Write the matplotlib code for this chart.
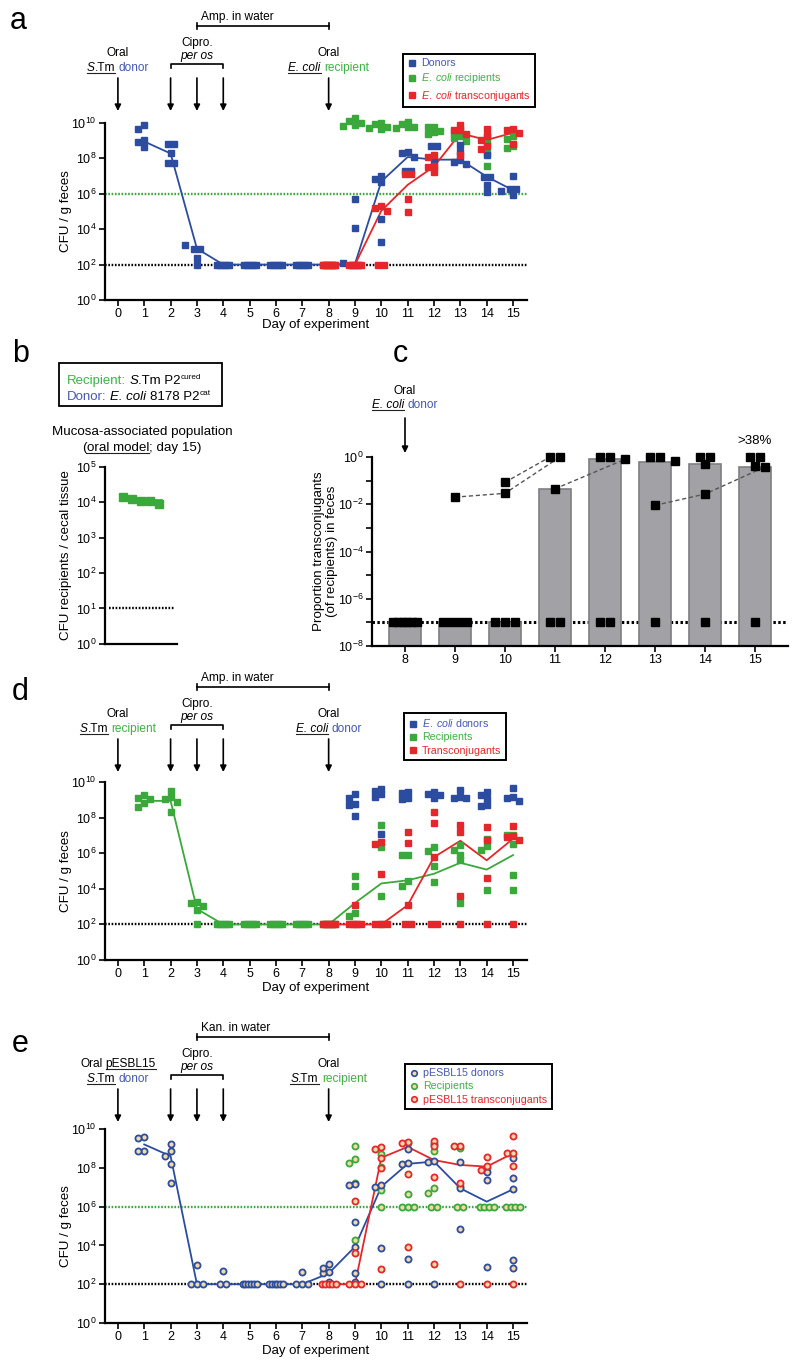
import numpy as np
import matplotlib
matplotlib.use('Agg')
import matplotlib.pyplot as plt
from matplotlib.lines import Line2D
from matplotlib.patches import Rectangle, FancyArrowPatch
from matplotlib.ticker import FixedLocator, FuncFormatter, NullLocator, NullFormatter

plt.rcParams['font.family'] = ['Liberation Sans', 'DejaVu Sans']
plt.rcParams['mathtext.fontset'] = 'custom'
plt.rcParams['mathtext.rm'] = 'Liberation Sans'
plt.rcParams['mathtext.it'] = 'Liberation Sans:italic'
plt.rcParams['mathtext.bf'] = 'Liberation Sans:bold'

# ---------------------------------------------------------------- data
# Panel a (S.Tm donor -> E. coli recipient)
a_donor_days = [1, 2, 3, 4, 5, 6, 7, 8, 9, 10, 11, 12, 13, 14, 15]
a_donor = [
    [4.8e9, 8e9, 1.15e9, 9e8, 4.7e8],
    [6.8e8, 6.8e8, 1.9e8, 5.8e7, 5.8e7],
    [800, 800, 1350, 250, 100],
    [1e2, 1e2, 1e2, 1e2, 1e2],
    [1e2, 1e2, 1e2, 1e2, 1e2],
    [1e2, 1e2, 1e2, 1e2, 1e2],
    [1e2, 1e2, 1e2, 1e2, 1e2],
    [1e2, 1e2, 1e2, 1e2, 1e2],
    [5.4e5, 1.1e4, 125, 1e2, 1e2],
    [1.05e7, 4.5e6, 7e6, 4e4, 1.8e3],
    [1.9e8, 1.2e8, 2.3e8, 2e7, 2e7],
    [5e8, 5e8, 8.5e7, 3.9e7],
    [5.8e8, 2.4e8, 8.5e7, 5e7, 6.5e7],
    [1.6e8, 9.3e6, 9.3e6, 3e6, 1.2e6],
    [1e7, 1.9e6, 1.9e6, 1.5e6, 9e5],
]
a_donor_mean = [9e8, 1.9e8, 800, 100, 100, 100, 100, 100, 110, 5e6, 1.2e8, 8.5e7, 8.5e7, 9.3e6, 1.6e6]
a_recip_days = [9, 10, 11, 12, 13, 14, 15]
a_recip = [
    [1.25e10, 1.8e10, 8e9, 7e9, 1e10],
    [9e9, 1e10, 5.4e9, 6.3e9, 4.7e9],
    [6.3e9, 1.1e10, 5e9, 5.6e9, 8.3e9],
    [6.3e9, 6.2e9, 3.6e9, 2.3e9, 3.2e9],
    [1.8e9, 4e9, 1e9, 1.35e9, 2.7e9],
    [2e8, 1.9e9, 8e8, 3.5e7],
    [5e8, 4e8, 1.8e9, 1.2e9],
]
a_trans_days = [8, 9, 10, 11, 12, 13, 14, 15]
a_trans = [
    [1e2, 1e2, 1e2, 1e2, 1e2],
    [1e2, 1e2, 1e2, 1e2, 1e2],
    [1.1e5, 2.1e5, 1.6e5, 1e2, 1e2],
    [1.25e7, 1.25e7, 5.4e5, 1e5],
    [3.5e7, 1.25e8, 3.4e7, 1.6e7, 1.6e8],
    [4e9, 8e9, 3.9e9, 1.6e8, 2.5e9],
    [1.9e9, 4.6e9, 3.2e8, 5e8, 1.1e9],
    [4.6e9, 2.8e9, 4e9, 6.3e8],
]
a_trans_mean = [100, 100, 1.1e5, 3.2e6, 3.5e7, 2.6e9, 1.1e9, 2.8e9]

# Panel b (mucosa-associated recipients, day 15)
b_recip = [1.35e4, 1.2e4, 1.07e4, 1.07e4, 8.9e3]
b_limit = 10

# Panel c (proportion transconjugants)
c_days = [8, 9, 10, 11, 12, 13, 14, 15]
c_bar = [1e-7, 1e-7, 1e-7, 0.043, 0.8, 0.6, 0.5, 0.38]
c_points = [
    [1e-7, 1e-7, 1e-7, 1e-7, 1e-7, 1e-7],
    [0.02, 1e-7, 1e-7, 1e-7, 1e-7],
    [0.085, 0.029, 1e-7, 1e-7, 1e-7],
    [1.0, 1.0, 0.045, 1e-7, 1e-7],
    [1.0, 1.0, 0.8, 1e-7, 1e-7],
    [1.0, 1.0, 0.68, 0.009, 1e-7],
    [1.0, 1.0, 0.5, 0.027, 1e-7],
    [1.0, 1.0, 0.4, 0.38, 1e-7],
]
c_traj = [
    [(10, 0.085), (11, 1.0)],
    [(9, 0.02), (10, 0.029), (11, 1.0)],
    [(11, 0.045), (12, 0.8)],
    [(13, 0.009), (14, 0.027), (15, 0.38)],
]
c_limit = 1e-7

# Panel d (E. coli donor -> S.Tm recipient)
d_recip_days = [1, 2, 3, 4, 5, 6, 7, 8, 9, 10, 11, 12, 13, 14, 15]
d_recip = [
    [1.3e9, 1.1e9, 1.8e9, 4.1e8, 6.3e8],
    [1.1e9, 3e9, 1.5e9, 7.8e8, 2.1e8],
    [1.1e3, 1.55e3, 1.8e3, 680, 100],
    [1e2, 1e2, 1e2, 1e2, 1e2],
    [1e2, 1e2, 1e2, 1e2, 1e2],
    [1e2, 1e2, 1e2, 1e2, 1e2],
    [1e2, 1e2, 1e2, 1e2, 1e2],
    [1e2, 1e2, 1e2, 1e2, 1e2],
    [430, 300, 5e4, 1.4e4, 100],
    [3.9e7, 2.3e6, 3.7e3, 100],
    [2.6e4, 1.4e4, 7.8e5, 7.7e5],
    [2.3e6, 1.4e6, 1.9e5, 2.5e4],
    [7.8e5, 1.6e6, 3e6, 4e5, 1.55e3],
    [1.6e6, 2.5e6, 6.3e6, 8.7e3],
    [1.1e7, 1.05e7, 3.3e6, 6.3e4, 9e3],
]
d_recip_mean = [8.7e8, 8.7e8, 740, 100, 100, 100, 100, 100, 1.6e3, 2e4, 3e4, 7e4, 2.9e5, 1.2e5, 7.8e5]
d_donor_days = [9, 10, 11, 12, 13, 14, 15]
d_donor = [
    [5.5e8, 5.4e8, 1.3e9, 2e9, 1.2e8],
    [2e9, 3e9, 1.5e9, 3.9e9, 1.2e7],
    [2.6e9, 2.5e9, 1.2e9, 1.15e9],
    [1.8e9, 2.8e9, 1.2e9, 2.2e9],
    [1.5e9, 3.5e9, 1.2e9, 1.3e9],
    [1.8e9, 2.8e9, 1.1e9, 4.7e8, 5e8],
    [1.5e9, 4.9e9, 8.5e8, 1.2e9],
]
d_trans_days = [8, 9, 10, 11, 12, 13, 14, 15]
d_trans = [
    [1e2, 1e2, 1e2, 1e2, 1e2],
    [1.2e3, 1e2, 1e2, 1e2, 1e2],
    [4.3e6, 3.3e6, 7e4, 1e2, 1e2, 1e2],
    [1.55e7, 3.6e6, 1.2e3, 1e2, 1e2],
    [2.1e8, 4.7e7, 6e5, 1e2, 1e2],
    [3.6e7, 1.55e7, 4e3, 1e2],
    [2.8e7, 5.8e6, 4.3e4, 1e2],
    [3.2e7, 7.8e6, 5.8e6, 9.5e6, 1e2],
]
d_trans_mean = [100, 100, 100, 1.2e3, 6e5, 5e6, 4e5, 6.5e6]

# Panel e (pESBL15 S.Tm donor -> S.Tm recipient)
e_donor_days = [1, 2, 3, 4, 5, 6, 7, 8, 9, 10, 11, 12, 13, 14, 15]
e_donor = [
    [3.7e9, 3.3e9, 7.4e8, 7.3e8],
    [1.7e9, 4.3e8, 1.5e8, 1.7e7, 7.4e8],
    [930, 1e2, 1e2, 1e2],
    [460, 1e2, 1e2],
    [1e2, 1e2, 1e2, 1e2, 1e2, 1e2],
    [1e2, 1e2, 1e2, 1e2, 1e2, 1e2],
    [430, 1e2, 1e2, 1e2],
    [450, 1.1e3, 360, 700, 125],
    [1.4e7, 1.35e7, 1.65e5, 8.5e3, 390, 125],
    [1.07e7, 1.3e7, 7e3, 1e2],
    [8.9e8, 1.6e8, 1.8e8, 1.9e3, 1e2],
    [1.7e9, 2.1e8, 2.2e8, 1e2],
    [2.1e8, 8.7e6, 7e4],
    [6.3e7, 2.3e7, 800],
    [3.3e8, 3.1e7, 7.8e6, 1.7e3, 700],
]
e_donor_mean = [1.6e9, 4e8, 100, 100, 100, 100, 100, 360, 8.5e3, 1.07e7, 1.6e8, 2.1e8, 8.7e6, 1.8e6, 7.8e6]
e_recip_days = [9, 10, 11, 12, 13, 14, 15]
e_recip = [
    [1.4e9, 1.7e8, 2.8e8, 1.6e7, 1.9e4],
    [5.1e8, 1.05e8, 7.2e6, 1e6],
    [1.8e9, 4.3e6, 1e6, 1e6, 1e6],
    [7.4e8, 8.7e6, 5.2e6, 1e6, 1e6],
    [1e9, 1.15e7, 1e6, 1e6],
    [9.3e7, 1e6, 1e6, 1e6, 1e6],
    [1e6, 1e6, 1e6, 1e6],
]
e_trans_days = [8, 9, 10, 11, 12, 13, 14, 15]
e_trans = [
    [1e2, 1e2, 1e2, 1e2, 1e2],
    [2e6, 4.3e3, 1e2, 1e2, 1e2],
    [1.15e9, 8.9e8, 3.3e8, 9.3e7, 600],
    [2.1e9, 1.8e9, 4.8e7, 8.5e3],
    [2.4e9, 1.3e9, 3.5e7, 1.1e3],
    [1.4e9, 1.38e9, 1.6e7, 1e2],
    [3.7e8, 7.8e7, 1.3e8, 1e2],
    [4.4e9, 5.6e8, 6e8, 1.3e8, 1e2],
]
e_trans_mean = [100, 100, 3.3e8, 1.2e9, 2.5e8, 1.4e8, 1.15e8, 5.6e8]

feces_limit = 1e2
recip_limit = 1e6
tc_ticks = list(range(16))

# ---------------------------------------------------------------- style
W, H = 800, 1371
BLUE = '#2c4c9f'
GREEN = '#3aa83a'
RED = '#e5262b'
TBLUE = '#4658b3'
TGREEN = '#3fb045'
CIRC_FACE = '#f2d9a8'
FS = 8.6

fig = plt.figure(figsize=(W / 100, H / 100), dpi=100)
R = fig.canvas.get_renderer()


def fx(x):
    return x / W


def fy(y):
    return 1 - y / H


def add_ax(l, t, r, b):
    return fig.add_axes([l / W, 1 - b / H, (r - l) / W, (b - t) / H])


def fmt_pow(v, pos):
    if v <= 0:
        return ''
    return r'$10^{%d}$' % int(round(np.log10(v)))


def base_style(ax):
    for s in ['top', 'right']:
        ax.spines[s].set_visible(False)
    for s in ['left', 'bottom']:
        ax.spines[s].set_linewidth(1.6)
    ax.tick_params(axis='both', which='both', direction='out', length=4,
                   width=1.2, labelsize=9, pad=2)


def space_w(size):
    t1 = fig.text(0, 0, 'a a', fontsize=size)
    t2 = fig.text(0, 0, 'aa', fontsize=size)
    w = t1.get_window_extent(R).width - t2.get_window_extent(R).width
    t1.remove(); t2.remove()
    return w


def rich(x, y, pieces, size=FS, ha='center'):
    """pieces: list of (text, opts); y is baseline in px from top."""
    items = []
    total = 0
    for s, o in pieces:
        fs = size * o.get('scale', 1.0)
        if s == ' ':
            w = space_w(fs)
            items.append((None, w, o))
            total += w
            continue
        t = fig.text(0, 0, s, fontsize=fs, color=o.get('c', 'k'),
                     style=o.get('style', 'normal'), ha='left', va='baseline')
        w = t.get_window_extent(R).width
        items.append((t, w, o))
        total += w
    x0 = x - total / 2 if ha == 'center' else x
    for t, w, o in items:
        if t is not None:
            t.set_position((fx(x0), fy(y - o.get('dy', 0))))
            if o.get('u'):
                fig.add_artist(Line2D([fx(x0), fx(x0 + w)], [fy(y + 2.2)] * 2,
                                      color='#222222', lw=0.8))
        x0 += w


def arrow(x, y0, y1):
    fig.add_artist(FancyArrowPatch((fx(x), fy(y0)), (fx(x), fy(y1)),
                                   transform=fig.transFigure, arrowstyle='-|>',
                                   mutation_scale=9, lw=1.2, color='k',
                                   shrinkA=0, shrinkB=0))


def fline(xs, ys, **kw):
    fig.add_artist(Line2D([fx(v) for v in xs], [fy(v) for v in ys], **kw))


def day_px(ax, d):
    return ax.transData.transform((d, 1.0))[0]


def swarm(ax, vals, msize, order=(0, -1, 1, -2, 2, -3, 3, -4, 4), maxhalf=6.0):
    vals = np.asarray(vals, float)
    y = np.array([ax.transData.transform((0, v))[1] for v in vals])
    ppx = day_px(ax, 1) - day_px(ax, 0)
    offs = np.full(len(vals), np.nan)
    placed = []
    u, cnt = np.unique(vals, return_counts=True)
    for uu, cc in zip(u, cnt):
        if cc >= 2:
            idx = np.where(vals == uu)[0]
            sp = min(msize, 2 * maxhalf / (cc - 1))
            xs = (np.arange(cc) - (cc - 1) / 2) * sp
            offs[idx] = xs
            placed += [(xx, y[idx[0]]) for xx in xs]
    for i in np.argsort(-vals, kind='stable'):
        if not np.isnan(offs[i]):
            continue
        xx = 0
        for k in order:
            xx = k * msize
            if all((xx - px) ** 2 + (y[i] - py) ** 2 >= (0.85 * msize) ** 2
                   for px, py in placed):
                break
        offs[i] = xx
        placed.append((xx, y[i]))
    return offs / ppx


def series(ax, days, vals, color, marker='s', ms=4.6, msize=6.0, maxhalf=6.0,
           z=3, open_=False):
    for d, v in zip(days, vals):
        off = swarm(ax, v, msize, maxhalf=maxhalf)
        if open_:
            ax.plot(d + off, v, ls='none', marker=marker, ms=ms, mfc=CIRC_FACE,
                    mec=color, mew=1.3, clip_on=False, zorder=z)
        else:
            ax.plot(d + off, v, ls='none', marker=marker, ms=ms, color=color,
                    mec=color, clip_on=False, zorder=z)


def tc_axes(l, t, r, b, label_top):
    ax = add_ax(l, t, r, b)
    base_style(ax)
    ax.set_yscale('log')
    ax.set_ylim(1, 1e10)
    ax.set_xlim(-0.49, 15.53)
    ax.yaxis.set_major_locator(FixedLocator([10.0 ** k for k in range(0, 11, 2)]))
    ax.yaxis.set_minor_locator(NullLocator())
    ax.yaxis.set_major_formatter(FuncFormatter(fmt_pow))
    ax.set_xticks(tc_ticks)
    ax.set_xticklabels([str(d) for d in tc_ticks])
    ax.set_ylabel('CFU / g feces', fontsize=9.6)
    ax.yaxis.set_label_coords((72 - l) / (r - l), 0.5)
    ax.set_xlabel('Day of experiment', fontsize=9.5, va='top')
    ax.xaxis.set_label_coords(0.5, (b - label_top) / (b - t))
    ax.axhline(feces_limit, color='k', ls=(0, (0.7, 0.7)), lw=1.7, zorder=1)
    return ax


def tc_annot(ax, base, bracket_label, left1, left2, right1, right2):
    p = lambda d: day_px(ax, d)
    # antibiotic in water bracket
    rich(p(3) + 4, base + 20, [(bracket_label, {})], ha='left')
    fline([p(3), p(8)], [base + 26, base + 26], color='k', lw=1.2)
    for d in (3, 8):
        fline([p(d), p(d)], [base + 23, base + 29], color='k', lw=1.2)
    # cipro bracket
    rich(p(3), base + 46, [('Cipro.', {})])
    rich(p(3), base + 59, [('per os', {'style': 'italic'})])
    fline([p(2), p(2), p(4), p(4)], [base + 68, base + 64, base + 64, base + 68],
          color='k', lw=1.2)
    rich(p(0), base + 56, left1)
    rich(p(0), base + 71, left2)
    rich(p(8), base + 56, right1)
    rich(p(8), base + 71, right2)
    for d in (0, 2, 3, 4, 8):
        arrow(p(d), base + 78, base + 111)


def legend(ax, handles, labels, colors, x, y):
    leg = ax.legend(handles, labels, loc='upper left',
                    bbox_to_anchor=(fx(x), fy(y)), bbox_transform=fig.transFigure,
                    frameon=True, fancybox=False, borderaxespad=0,
                    handlelength=0.8, handletextpad=0.5, labelspacing=0.3,
                    borderpad=0.4, fontsize=7.7)
    fr = leg.get_frame()
    fr.set_edgecolor('k'); fr.set_linewidth(1.4); fr.set_alpha(1)
    for t, c in zip(leg.get_texts(), colors):
        t.set_color(c)


def sq(c):
    return Line2D([], [], ls='none', marker='s', ms=4.2, color=c)


def circ(c):
    return Line2D([], [], ls='none', marker='o', ms=4.0, mfc=CIRC_FACE, mec=c, mew=1.2)


IT = {'style': 'italic'}
ITU = {'style': 'italic', 'u': True}
ECOLI = r'$\mathit{E.\;coli}$'

# ================================================================ panel a
ax_a = tc_axes(105, 123, 527, 300, 319)
ax_a.axhline(recip_limit, color=GREEN, ls=(0, (0.7, 0.7)), lw=1.7, zorder=1)
series(ax_a, a_recip_days, a_recip, GREEN)
series(ax_a, a_donor_days, a_donor, BLUE)
ax_a.plot(a_donor_days, a_donor_mean, color=BLUE, lw=1.3, zorder=2)
series(ax_a, a_trans_days, a_trans, RED, z=4)
ax_a.plot(a_trans_days, a_trans_mean, color=RED, lw=1.3, zorder=2.5)
tc_annot(ax_a, 0, 'Amp. in water',
         [('Oral', {})],
         [('S', ITU), ('.Tm', {'u': True}), (' ', {}), ('donor', {'c': TBLUE})],
         [('Oral', {})],
         [('E. coli', ITU), (' ', {}), ('recipient', {'c': TGREEN})])
legend(ax_a, [sq(BLUE), sq(GREEN), sq(RED)],
       ['Donors', ECOLI + ' recipients', ECOLI + ' transconjugants'],
       [TBLUE, TGREEN, RED], 403, 54)
fig.text(fx(10), fy(21), 'a', fontsize=22, va='center', ha='left')

# ================================================================ panel b
ax_b = add_ax(105, 466.5, 177, 644)
base_style(ax_b)
ax_b.set_yscale('log')
ax_b.set_ylim(1, 1e5)
ax_b.set_xlim(0, 8)
ax_b.yaxis.set_major_locator(FixedLocator([10.0 ** k for k in range(0, 6)]))
ax_b.yaxis.set_minor_locator(NullLocator())
ax_b.yaxis.set_major_formatter(FuncFormatter(fmt_pow))
ax_b.set_xticks([])
b_x = np.arange(len(b_recip)) + 2
ax_b.axhline(b_limit, xmin=0.06, xmax=0.97, color='k', ls=(0, (0.7, 0.7)), lw=1.7)
ax_b.plot([b_x[0] - 0.3, b_x[-1] + 0.3], [10 ** np.mean(np.log10(b_recip))] * 2,
          color=GREEN, lw=1.2, zorder=2)
ax_b.plot(b_x, b_recip, ls='none', marker='s', ms=5.2, color=GREEN, zorder=3)
ax_b.set_ylabel('CFU recipients / cecal tissue', fontsize=9.6)
ax_b.yaxis.set_label_coords((72 - 105) / 72, 0.5)
fig.add_artist(Rectangle((fx(59), fy(406)), fx(222) - fx(59), fy(363) - fy(406),
                         transform=fig.transFigure, fill=False, lw=1.3, ec='k'))
rich(67, 384, [('Recipient:', {'c': TGREEN}), (' ', {}), ('S', IT), ('.Tm P2', {}),
               ('cured', {'scale': 0.62, 'dy': 5})], size=9.5, ha='left')
rich(67, 400, [('Donor:', {'c': TBLUE}), (' ', {}), ('E. coli', IT), (' ', {}),
               ('8178 P2', {}), ('cat', {'scale': 0.62, 'dy': 5})], size=9.5, ha='left')
rich(142, 435, [('Mucosa-associated population', {})], size=9.6)
rich(142, 451, [('(', {}), ('oral model', {'u': True}), ('; day 15)', {})], size=9.6)
fig.text(fx(12), fy(354), 'b', fontsize=22, va='center', ha='left')

# ================================================================ panel c
ax_c = add_ax(372, 457, 788, 646)
base_style(ax_c)
ax_c.set_yscale('log')
ax_c.set_ylim(1e-8, 1)
ax_c.set_xlim(7.34, 15.66)
ax_c.yaxis.set_major_locator(FixedLocator([10.0 ** k for k in range(-8, 1, 2)]))
ax_c.yaxis.set_minor_locator(FixedLocator([10.0 ** k for k in range(-7, 0, 2)]))
ax_c.yaxis.set_major_formatter(FuncFormatter(fmt_pow))
ax_c.yaxis.set_minor_formatter(NullFormatter())
ax_c.set_xticks(c_days)
ax_c.set_xticklabels([str(d) for d in c_days])
ax_c.axhline(c_limit, color='k', ls=(0, (0.8, 0.8)), lw=2.2, zorder=0.5)
ax_c.bar(c_days, np.array(c_bar) - 1e-8, bottom=1e-8, width=0.64,
         color='#a2a2a6', edgecolor='#7e7e82', lw=1.2, zorder=1)
c_pos = {}
for d, v in zip(c_days, c_points):
    off = swarm(ax_c, v, 10.0, order=(0, 1, -1, 2, -2, 3, -3), maxhalf=12.0)
    c_pos[d] = [[d + o, val, False] for o, val in zip(off, v)]
    ax_c.plot(d + off, v, ls='none', marker='s', ms=6.3, color='k', zorder=3,
              clip_on=False)
for traj in c_traj:
    xs, ys = [], []
    for d, v in traj:
        for rec in c_pos[d]:
            if not rec[2] and abs(np.log10(rec[1]) - np.log10(v)) < 1e-9:
                rec[2] = True
                xs.append(rec[0]); ys.append(v)
                break
    ax_c.plot(xs, ys, color='#555555', lw=1.0, ls=(0, (3, 2)), zorder=2.5)
ax_c.set_ylabel('Proportion transconjugants\n(of recipients) in feces', fontsize=9.6,
                linespacing=1.15)
ax_c.yaxis.set_label_coords((338 - 372) / 416, 0.5)
rich(755, 444, [('>38%', {})], size=9.5)
pc8 = day_px(ax_c, 8)
rich(pc8, 394, [('Oral', {})])
rich(pc8, 408, [('E. coli', ITU), (' ', {}), ('donor', {'c': TBLUE})])
arrow(pc8, 418, 453)
fig.text(fx(393), fy(354), 'c', fontsize=22, va='center', ha='left')

# ================================================================ panel d
ax_d = tc_axes(105, 782, 527, 960, 982)
series(ax_d, d_recip_days, d_recip, GREEN)
ax_d.plot(d_recip_days, d_recip_mean, color=GREEN, lw=1.3, zorder=2)
series(ax_d, d_donor_days, d_donor, BLUE)
series(ax_d, d_trans_days, d_trans, RED, z=4)
ax_d.plot(d_trans_days, d_trans_mean, color=RED, lw=1.3, zorder=2.5)
tc_annot(ax_d, 661, 'Amp. in water',
         [('Oral', {})],
         [('S', ITU), ('.Tm', {'u': True}), (' ', {}), ('recipient', {'c': TGREEN})],
         [('Oral', {})],
         [('E. coli', ITU), (' ', {}), ('donor', {'c': TBLUE})])
legend(ax_d, [sq(BLUE), sq(GREEN), sq(RED)],
       [ECOLI + ' donors', 'Recipients', 'Transconjugants'],
       [TBLUE, TGREEN, RED], 404, 713)
fig.text(fx(12), fy(692), 'd', fontsize=22, va='center', ha='left')

# ================================================================ panel e
ax_e = tc_axes(105, 1129, 527, 1323, 1345)
ax_e.axhline(recip_limit, color=GREEN, ls=(0, (0.7, 0.7)), lw=1.7, zorder=1)
series(ax_e, e_recip_days, e_recip, GREEN, marker='o', ms=4.4, maxhalf=7, open_=True)
series(ax_e, e_donor_days, e_donor, BLUE, marker='o', ms=4.4, maxhalf=7, open_=True)
ax_e.plot(e_donor_days, e_donor_mean, color=BLUE, lw=1.3, zorder=2)
series(ax_e, e_trans_days, e_trans, RED, marker='o', ms=4.4, maxhalf=7, z=4, open_=True)
ax_e.plot(e_trans_days, e_trans_mean, color=RED, lw=1.3, zorder=2.5)
tc_annot(ax_e, 1011, 'Kan. in water',
         [('Oral', {}), (' ', {}), ('pESBL15', {'u': True})],
         [('S', ITU), ('.Tm', {'u': True}), (' ', {}), ('donor', {'c': TBLUE})],
         [('Oral', {})],
         [('S', ITU), ('.Tm', {'u': True}), (' ', {}), ('recipient', {'c': TGREEN})])
legend(ax_e, [circ(BLUE), circ(GREEN), circ(RED)],
       ['pESBL15 donors', 'Recipients', 'pESBL15 transconjugants'],
       [TBLUE, TGREEN, RED], 405, 1064)
fig.text(fx(12), fy(1044), 'e', fontsize=22, va='center', ha='left')

fig.savefig('out.png', dpi=100)
